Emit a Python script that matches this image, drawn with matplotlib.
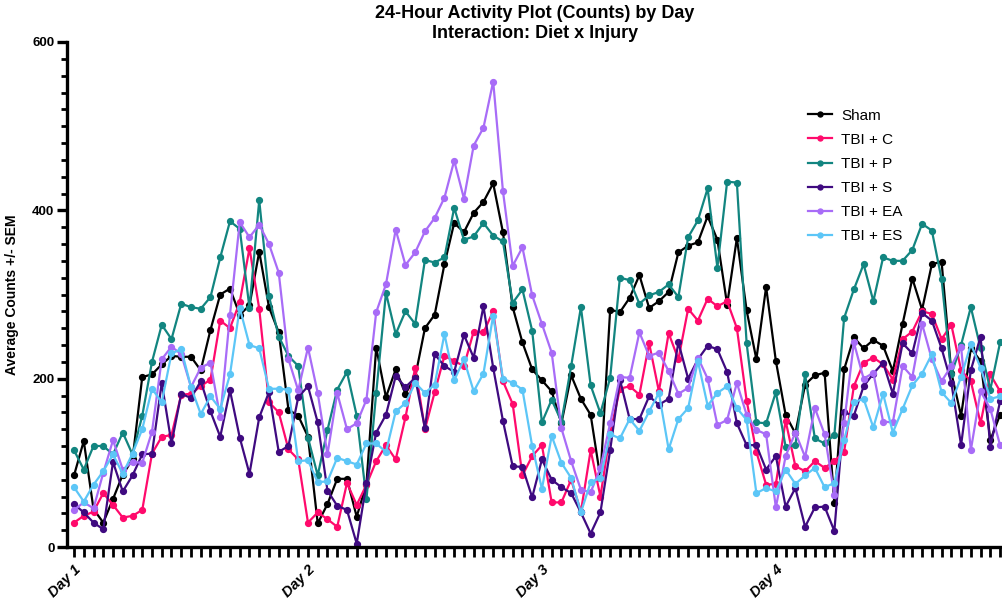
import matplotlib
matplotlib.use("Agg")
import matplotlib.pyplot as plt
from matplotlib.ticker import MultipleLocator, FixedLocator

hours = list(range(96))
day_ticks = [0, 24, 48, 72]
day_labels = ["Day 1", "Day 2", "Day 3", "Day 4"]

sham = [85, 126, 45, 29, 57, 86, 104, 202, 205, 217, 227, 226,
        226, 210, 258, 300, 307, 276, 287, 351, 285, 255, 163, 156,
        131, 28, 51, 81, 81, 36, 75, 237, 178, 211, 182, 202,
        260, 276, 336, 385, 374, 397, 410, 432, 374, 285, 243, 211,
        198, 185, 147, 204, 176, 157, 82, 282, 279, 296, 323, 284,
        292, 303, 350, 358, 362, 393, 365, 288, 367, 281, 223, 309,
        221, 157, 135, 193, 204, 207, 52, 211, 249, 236, 246, 239,
        209, 265, 319, 282, 336, 339, 207, 156, 236, 221, 127, 157]

tbi_c = [29, 37, 42, 64, 50, 35, 37, 44, 111, 131, 133, 181,
         182, 191, 199, 269, 260, 291, 355, 283, 172, 160, 116, 104,
         29, 41, 33, 24, 76, 50, 74, 102, 121, 104, 154, 213,
         140, 184, 227, 221, 215, 256, 255, 280, 197, 170, 85, 108,
         121, 53, 53, 80, 42, 115, 60, 135, 188, 191, 181, 242,
         185, 254, 223, 283, 269, 295, 286, 292, 260, 174, 113, 74,
         75, 150, 96, 90, 102, 94, 102, 113, 191, 219, 225, 217,
         199, 247, 256, 280, 277, 247, 264, 210, 197, 147, 205, 185]

tbi_p = [115, 92, 120, 120, 110, 136, 110, 156, 220, 264, 247, 289,
         285, 283, 297, 344, 387, 378, 284, 412, 298, 250, 227, 215,
         130, 85, 139, 187, 208, 156, 57, 183, 302, 253, 280, 265,
         341, 338, 344, 403, 365, 369, 385, 370, 363, 290, 306, 257,
         148, 175, 149, 215, 285, 192, 159, 201, 320, 317, 289, 299,
         303, 312, 297, 368, 388, 426, 332, 434, 433, 242, 148, 147,
         184, 119, 121, 205, 129, 123, 133, 272, 306, 336, 292, 344,
         340, 340, 353, 384, 376, 318, 205, 240, 285, 236, 187, 243]

tbi_s = [51, 41, 29, 21, 101, 66, 85, 110, 111, 195, 123, 182,
         177, 197, 161, 131, 186, 130, 87, 154, 184, 113, 120, 178,
         191, 148, 67, 49, 44, 4, 76, 136, 157, 203, 190, 201,
         141, 229, 215, 208, 252, 225, 286, 213, 150, 96, 95, 59,
         104, 80, 71, 64, 41, 16, 41, 115, 199, 152, 152, 179,
         169, 176, 243, 200, 223, 239, 235, 208, 147, 121, 121, 92,
         108, 48, 70, 24, 47, 48, 19, 160, 156, 191, 206, 219,
         182, 242, 230, 278, 269, 236, 195, 121, 210, 250, 119, 173]

tbi_ea = [44, 53, 46, 88, 127, 92, 101, 100, 137, 223, 238, 229,
          190, 213, 219, 154, 276, 386, 368, 383, 360, 326, 223, 186,
          237, 183, 110, 183, 140, 147, 175, 279, 312, 377, 335, 350,
          375, 391, 415, 459, 414, 477, 498, 553, 423, 334, 356, 299,
          265, 231, 141, 102, 68, 65, 94, 147, 202, 201, 255, 227,
          231, 209, 182, 189, 225, 200, 145, 151, 195, 157, 139, 134,
          47, 108, 136, 107, 165, 134, 62, 147, 243, 200, 207, 149,
          148, 215, 202, 265, 223, 197, 215, 238, 115, 185, 164, 121]

tbi_es = [71, 54, 74, 90, 110, 87, 111, 140, 188, 172, 230, 235,
          190, 158, 179, 164, 205, 284, 240, 236, 188, 188, 187, 102,
          103, 77, 78, 106, 102, 98, 123, 123, 113, 161, 171, 195,
          183, 193, 253, 198, 223, 185, 206, 275, 200, 195, 187, 120,
          69, 132, 100, 82, 41, 77, 82, 134, 129, 152, 138, 161,
          183, 116, 152, 165, 221, 168, 183, 191, 165, 151, 64, 70,
          66, 92, 75, 85, 94, 71, 76, 127, 172, 176, 142, 182,
          136, 164, 192, 206, 229, 184, 171, 202, 241, 213, 176, 179]

series_names = ["Sham", "TBI + C", "TBI + P", "TBI + S", "TBI + EA", "TBI + ES"]
series_vals = [sham, tbi_c, tbi_p, tbi_s, tbi_ea, tbi_es]
colors = ["#000000", "#FF0A6C", "#128580", "#3F0A80", "#A86CF7", "#5CC6F7"]

plt.rcParams['font.family'] = ['Liberation Sans', 'DejaVu Sans']

fig = plt.figure(figsize=(10.03, 5.98), dpi=100)
ax = fig.add_axes([67/1003, 51/598, 936/1003, 505/598])

for name, vals, c in zip(series_names, series_vals, colors):
    ax.plot(hours, vals, color=c, lw=1.6, marker='o', ms=4.2, label=name,
            clip_on=False)

ax.set_xlim(-0.72, 95.3)
ax.set_ylim(0, 600)

for s in ['top', 'right']:
    ax.spines[s].set_visible(False)
for s in ['left', 'bottom']:
    ax.spines[s].set_linewidth(2.4)

ax.xaxis.set_major_locator(FixedLocator(day_ticks))
ax.set_xticklabels(day_labels, rotation=45, ha='right', va='top',
                   rotation_mode='anchor', fontsize=10.5, fontweight='bold',
                   fontstyle='italic')
ax.xaxis.set_minor_locator(MultipleLocator(1))
ax.tick_params(axis='x', which='both', direction='out', length=7, width=2)
ax.tick_params(axis='x', which='major', pad=4)

ax.yaxis.set_major_locator(FixedLocator([0, 200, 400, 600]))
ax.yaxis.set_minor_locator(MultipleLocator(20))
ax.tick_params(axis='y', which='major', direction='out', length=7, width=2.4,
               pad=2)
ax.tick_params(axis='y', which='minor', direction='out', length=4, width=2)
for lbl in ax.get_yticklabels():
    lbl.set_fontweight('bold')
    lbl.set_fontsize(9.5)

ax.set_ylabel("Average Counts +/- SEM", fontsize=10, fontweight='bold')
ax.yaxis.set_label_coords((19 - 67) / 936, 0.5)

fig.text(535/1003, 1 - 14/598, "24-Hour Activity Plot (Counts) by Day",
         ha='center', va='center', fontsize=13, fontweight='bold')
fig.text(535/1003, 1 - 33/598, "Interaction: Diet x Injury",
         ha='center', va='center', fontsize=13, fontweight='bold')

ax.legend(loc='upper left', bbox_to_anchor=(794/1003, 1 - 95/598),
          bbox_transform=fig.transFigure, frameon=False, fontsize=11,
          handlelength=1.6, labelspacing=0.66, handletextpad=0.6,
          markerscale=0.85, borderpad=0.4)

fig.savefig("out.png", dpi=100)
